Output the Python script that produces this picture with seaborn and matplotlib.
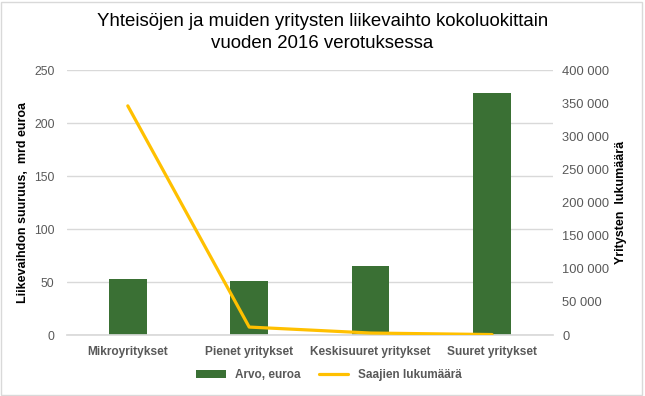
import matplotlib
matplotlib.use("Agg")
import matplotlib.pyplot as plt
import seaborn as sns
import pandas as pd
from matplotlib.patches import Patch, Rectangle
from matplotlib.lines import Line2D
from matplotlib.ticker import FuncFormatter

categories = ["Mikroyritykset", "Pienet yritykset", "Keskisuuret yritykset", "Suuret yritykset"]
turnover_bn = [53.0, 51.0, 65.3, 228.6]
recipients = [346000, 12000, 3000, 700]
left_ticks = [0, 50, 100, 150, 200, 250]
right_ticks = [0, 50000, 100000, 150000, 200000, 250000, 300000, 350000, 400000]

title = "Yhteisöjen ja muiden yritysten liikevaihto kokoluokittain\nvuoden 2016 verotuksessa"
ylabel_left = "Liikevaihdon suuruus,  mrd euroa"
ylabel_right = "Yritysten  lukumäärä"
legend_bar = "Arvo, euroa"
legend_line = "Saajien lukumäärä"

GREEN = "#3A7034"
YELLOW = "#FFC000"
GRID = "#D9D9D9"
TICK = "#595959"

sns.set_theme(style="white")
plt.rcParams["font.family"] = ["Liberation Sans", "DejaVu Sans"]

df = pd.DataFrame({"cat": categories, "val": turnover_bn, "n": recipients})

fig = plt.figure(figsize=(6.45, 3.96), dpi=100)
ax = fig.add_axes([0.104, 0.154, 0.753, 0.669])

sns.barplot(data=df, x="cat", y="val", ax=ax, color=GREEN, width=0.31,
            saturation=1, edgecolor="none", errorbar=None, zorder=2)

ax2 = ax.twinx()
sns.pointplot(data=df, x="cat", y="n", ax=ax2, color=YELLOW, marker="",
              linewidth=2.3, errorbar=None)

ax.set_xlim(-0.5, 3.5)
ax.set_ylim(0, 250)
ax.set_yticks(left_ticks)
ax2.set_ylim(0, 400000)
ax2.set_yticks(right_ticks)
ax2.yaxis.set_major_formatter(FuncFormatter(lambda v, p: f"{int(v):,}".replace(",", " ")))

ax.yaxis.grid(True, color=GRID, linewidth=1, zorder=0)
ax.set_axisbelow(True)
for a in (ax, ax2):
    for s in a.spines.values():
        s.set_visible(False)
    a.tick_params(length=0, colors=TICK, labelsize=8.7)
ax.spines["bottom"].set_visible(True)
ax.spines["bottom"].set_color(GRID)
ax.tick_params(axis="x", pad=8, labelsize=8.6)
for lbl in ax.get_xticklabels():
    lbl.set_fontweight("bold")
    lbl.set_color(TICK)
ax.tick_params(axis="y", pad=9)
ax2.tick_params(axis="y", pad=7, labelsize=9.3)

ax.set_xlabel("")
ax.set_ylabel(ylabel_left, fontsize=9, fontweight="bold", color="black")
ax2.set_ylabel(ylabel_right, fontsize=9, fontweight="bold", color="black")
ax.yaxis.set_label_coords(-0.078, 0.5)
ax2.yaxis.set_label_coords(1.128, 0.5)

fig.text(0.5, 0.918, title, ha="center", va="center", fontsize=13.4, color="black", linespacing=1.35)

handles = [Patch(facecolor=GREEN, edgecolor="none"),
           Line2D([0], [0], color=YELLOW, linewidth=2.3)]
fig.legend(handles, [legend_bar, legend_line], loc="center", bbox_to_anchor=(0.51, 0.053),
           ncol=2, frameon=False, handlelength=2.5, handleheight=0.6,
           columnspacing=1.5, labelcolor=TICK, prop={"weight": "bold", "size": 8.5})

fig.patches.append(Rectangle((0.002, 0.002), 0.994, 0.994, transform=fig.transFigure,
                             fill=False, edgecolor=GRID, linewidth=1))

fig.savefig("out.png", dpi=100)
